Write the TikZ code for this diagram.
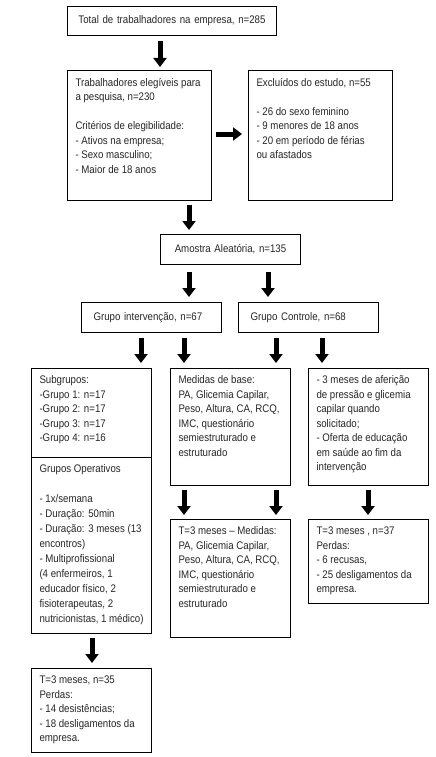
\documentclass[tikz,border=0pt]{standalone}
\usepackage{fontspec}
\setmainfont[FakeStretch=0.88]{Liberation Sans}
\usetikzlibrary{arrows.meta}
\newcommand\tb[3]{\begin{minipage}[c][#2][t]{#1}\raggedright\vspace*{7.5pt}#3\end{minipage}}
\tikzset{
  box/.style={draw, line width=1pt, anchor=north west, inner xsep=8pt, inner ysep=0pt, font=\fontsize{11}{14.5}\selectfont, text=black!85},
  sbox/.style={draw, line width=1pt, anchor=north west, inner xsep=12pt, inner ysep=0pt, font=\fontsize{11}{14.5}\selectfont, text=black!85, align=left},
  arr/.style={line width=5pt, -{Triangle[width=13pt,length=9pt]}},
}
\begin{document}
\begin{tikzpicture}[x=1pt,y=-1pt]
\useasboundingbox (0,0) rectangle (436,757);
% boxes
\node[sbox, align=center, minimum width=209pt, minimum height=29pt, inner xsep=2pt, text width=205pt] (total) at (67,6) {Total de trabalhadores na empresa, n=285};
\node[box] (eleg) at (67,70) {\tb{128pt}{130pt}{Trabalhadores elegíveis para\\a pesquisa, n=230\\[14.5pt]Critérios de elegibilidade:\\- Ativos na empresa;\\- Sexo masculino;\\- Maior de 18 anos}};
\node[box] (excl) at (248,70) {\tb{128pt}{130pt}{Excluídos do estudo, n=55\\[14.5pt]- 26 do sexo feminino\\- 9 menores de 18 anos\\- 20 em período de férias\\ou afastados}};
\node[sbox, align=center, minimum width=140pt, minimum height=30pt, text width=116pt] (amostra) at (160,234) {Amostra Aleatória, n=135};
\node[sbox, minimum width=140pt, minimum height=30pt, text width=116pt] (gint) at (81,302) {Grupo intervenção, n=67};
\node[sbox, minimum width=140pt, minimum height=30pt, text width=116pt] (gctl) at (238,302) {Grupo Controle, n=68};
\node[box] (sub) at (31,368) {\tb{104pt}{89pt}{Subgrupos:\\-Grupo 1: n=17\\-Grupo 2: n=17\\-Grupo 3: n=17\\-Grupo 4: n=16}};
\node[box, font=\fontsize{11}{15}\selectfont] (oper) at (31,457) {\tb{104pt}{176pt}{Grupos Operativos\\[14.5pt]- 1x/semana\\- Duração: 50min\\- Duração: 3 meses (13\\encontros)\\- Multiprofissional\\(4 enfermeiros, 1\\educador físico, 2\\fisioterapeutas, 2\\nutricionistas, 1 médico)}};
\node[box] (med) at (170,368) {\tb{104pt}{117pt}{Medidas de base:\\PA, Glicemia Capilar,\\Peso, Altura, CA, RCQ,\\IMC, questionário\\semiestruturado e\\estruturado}};
\node[box] (ctl3) at (308,368) {\tb{104pt}{117pt}{- 3 meses de aferição\\de pressão e glicemia\\capilar quando\\solicitado;\\- Oferta de educação\\em saúde ao fim da\\intervenção}};
\node[box] (tmed) at (170,519) {\tb{104pt}{118pt}{T=3 meses – Medidas:\\PA, Glicemia Capilar,\\Peso, Altura, CA, RCQ,\\IMC, questionário\\semiestruturado e\\estruturado}};
\node[box] (tctl) at (308,519) {\tb{104pt}{84pt}{T=3 meses , n=37\\Perdas:\\- 6 recusas,\\- 25 desligamentos da\\empresa.}};
\node[box] (tint) at (31,668) {\tb{104pt}{84pt}{T=3 meses, n=35\\Perdas:\\- 14 desistências;\\- 18 desligamentos da\\empresa.}};
% x positions of arrows
\coordinate (a160) at (160,0);
\coordinate (a189) at (189,0);
\coordinate (a268) at (268,0);
\coordinate (a141) at (141,0);
\coordinate (a184) at (184,0);
\coordinate (a276) at (276,0);
\coordinate (a322) at (322,0);
\coordinate (a368) at (368,0);
\coordinate (a92) at (92,0);
\coordinate (r134) at (0,134);
% arrows
\draw[arr, shorten <=5pt, shorten >=3pt] (total.south -| a160) -- (eleg.north -| a160);
\draw[arr, shorten <=4pt, shorten >=6pt] (eleg.east |- r134) -- (excl.west |- r134);
\draw[arr, shorten <=4pt, shorten >=4pt] (eleg.south -| a189) -- (amostra.north -| a189);
\draw[arr, shorten <=7pt, shorten >=5pt] (amostra.south -| a189) -- (gint.north -| a189);
\draw[arr, shorten <=7pt, shorten >=5pt] (amostra.south -| a268) -- (gctl.north -| a268);
\draw[arr, shorten <=5pt, shorten >=5pt] (gint.south -| a141) -- (sub.north -| a141);
\draw[arr, shorten <=5pt, shorten >=5pt] (gint.south -| a184) -- (med.north -| a184);
\draw[arr, shorten <=5pt, shorten >=5pt] (gctl.south -| a276) -- (med.north -| a276);
\draw[arr, shorten <=5pt, shorten >=5pt] (gctl.south -| a322) -- (ctl3.north -| a322);
\draw[arr, shorten <=4pt, shorten >=4pt] (med.south -| a184) -- (tmed.north -| a184);
\draw[arr, shorten <=4pt, shorten >=4pt] (med.south -| a276) -- (tmed.north -| a276);
\draw[arr, shorten <=4pt, shorten >=4pt] (ctl3.south -| a368) -- (tctl.north -| a368);
\draw[arr, shorten <=4pt, shorten >=5pt] (oper.south -| a92) -- (tint.north -| a92);
\end{tikzpicture}
\end{document}
